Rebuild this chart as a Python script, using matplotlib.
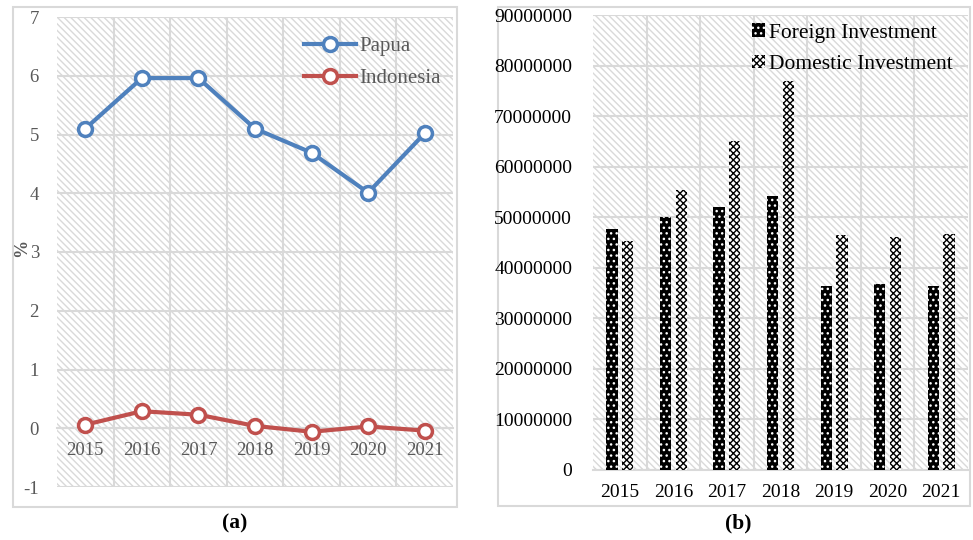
import matplotlib
matplotlib.use("Agg")
import matplotlib.pyplot as plt
import numpy as np
from matplotlib.patches import Rectangle
from matplotlib.ticker import FixedLocator, FuncFormatter

plt.rcParams["font.family"] = ["Liberation Serif", "DejaVu Serif"]
plt.rcParams["hatch.linewidth"] = 1.0
plt.rcParams["axes.unicode_minus"] = False

# --- data ---
years = ["2015", "2016", "2017", "2018", "2019", "2020", "2021"]
papua = [5.10, 5.96, 5.96, 5.10, 4.69, 4.01, 5.02]
indonesia = [0.06, 0.29, 0.23, 0.04, -0.06, 0.03, -0.04]

foreign_inv = [47.7e6, 50.0e6, 52.0e6, 54.1e6, 36.3e6, 36.7e6, 36.3e6]
domestic_inv = [45.3e6, 55.4e6, 65.1e6, 76.9e6, 46.5e6, 46.0e6, 46.7e6]

GRID = "#d9d9d9"
GREY_TXT = "#595959"
BLUE = "#4F81BD"
RED = "#C0504D"

W, H = 973, 540
fig = plt.figure(figsize=(W / 100, H / 100), dpi=100, facecolor="white")


def px_rect(x0, y0, x1, y1):
    """Pixel box (top-left origin) -> figure-fraction rect."""
    return [x0 / W, 1 - y1 / H, (x1 - x0) / W, (y1 - y0) / H]


def panel_border(x0, y0, x1, y1):
    r = px_rect(x0, y0, x1, y1)
    fig.add_artist(Rectangle((r[0], r[1]), r[2], r[3], transform=fig.transFigure,
                             facecolor="none", edgecolor=GRID, linewidth=1.5, zorder=-5))


def hatched_background(ax):
    ax.set_facecolor("white")
    ax.add_patch(Rectangle((0, 0), 1, 1, transform=ax.transAxes, facecolor="white",
                           edgecolor=GRID, hatch="\\\\\\\\\\", linewidth=0, zorder=0))
    for s in ax.spines.values():
        s.set_visible(False)
    ax.set_axisbelow(True)


panel_border(13, 7, 457, 507)
panel_border(498, 7, 970, 506)

# --- (a) growth lines ---
x = np.arange(len(years))
ax1 = fig.add_axes(px_rect(57, 17, 453, 487))
hatched_background(ax1)
ax1.plot(x, papua, color=BLUE, lw=3, marker="o", ms=10, mfc="white", mec=BLUE, mew=2.5,
         label="Papua", zorder=3)
ax1.plot(x, indonesia, color=RED, lw=3, marker="o", ms=10, mfc="white", mec=RED, mew=2.5,
         label="Indonesia", zorder=3)
ax1.set_xlim(-0.5, len(years) - 0.5)
ax1.set_ylim(-1, 7)
ax1.set_yticks(range(-1, 8))
ax1.set_xticks(x)
ax1.set_xticklabels(years)
ax1.xaxis.set_minor_locator(FixedLocator(np.arange(0.5, len(years) - 0.5, 1)))
ax1.grid(True, which="major", axis="y", color=GRID, lw=1.5, zorder=1)
ax1.grid(True, which="minor", axis="x", color=GRID, lw=1.5, zorder=1)
ax1.spines["bottom"].set_visible(True)
ax1.spines["bottom"].set_position(("data", 0))
ax1.spines["bottom"].set_color(GRID)
ax1.spines["bottom"].set_linewidth(1.5)
ax1.tick_params(axis="x", which="both", length=0, pad=10, labelsize=13.5, labelcolor=GREY_TXT)
ax1.tick_params(axis="y", length=0, pad=13, labelsize=13.5, labelcolor=GREY_TXT)
ax1.legend(loc="upper right", frameon=False, fontsize=15, handlelength=2.5,
           handletextpad=0.15, labelspacing=0.6, borderaxespad=0.2,
           bbox_to_anchor=(1.0, 0.985), labelcolor=GREY_TXT)
fig.text(22 / W, 1 - 248 / H, "%", rotation=90, fontsize=13, fontweight="bold",
         color=GREY_TXT, ha="center", va="center")
fig.text(235 / W, 1 - 523 / H, "(a)", fontsize=15.5, fontweight="bold", ha="center", va="center")

# --- (b) investment bars ---
ax2 = fig.add_axes(px_rect(593, 15, 968, 470))
hatched_background(ax2)
bw = 0.21
off = 0.147
ax2.bar(x - off, foreign_inv, width=bw, facecolor="black", edgecolor="white", hatch="...",
        linewidth=0, label="Foreign Investment", zorder=3)
ax2.bar(x + off, domestic_inv, width=bw, facecolor="white", edgecolor="black", hatch="xxxxx",
        linewidth=0, label="Domestic Investment", zorder=3)
ax2.set_xlim(-0.5, len(years) - 0.5)
ax2.set_ylim(0, 90e6)
ax2.set_yticks(np.arange(0, 90e6 + 1, 10e6))
ax2.yaxis.set_major_formatter(FuncFormatter(lambda v, p: f"{int(round(v))}"))
ax2.set_xticks(x)
ax2.set_xticklabels(years)
ax2.xaxis.set_minor_locator(FixedLocator(np.arange(0.5, len(years) - 0.5, 1)))
ax2.grid(True, which="major", axis="y", color=GRID, lw=1.5, zorder=1)
ax2.grid(True, which="minor", axis="x", color=GRID, lw=1.5, zorder=1)
ax2.spines["bottom"].set_visible(True)
ax2.spines["bottom"].set_color(GRID)
ax2.spines["bottom"].set_linewidth(1.5)
ax2.tick_params(axis="x", which="both", length=0, pad=10, labelsize=14)
ax2.tick_params(axis="y", length=0, pad=15, labelsize=14)
ax2.legend(loc="upper right", frameon=False, fontsize=15.5, handlelength=0.6,
           handleheight=0.6, handletextpad=0.2, labelspacing=0.55,
           bbox_to_anchor=(1.0, 1.015), borderaxespad=0.3)
fig.text(738 / W, 1 - 523 / H, "(b)", fontsize=15.5, fontweight="bold", ha="center", va="center")

fig.savefig("out.png", dpi=100, facecolor="white")
